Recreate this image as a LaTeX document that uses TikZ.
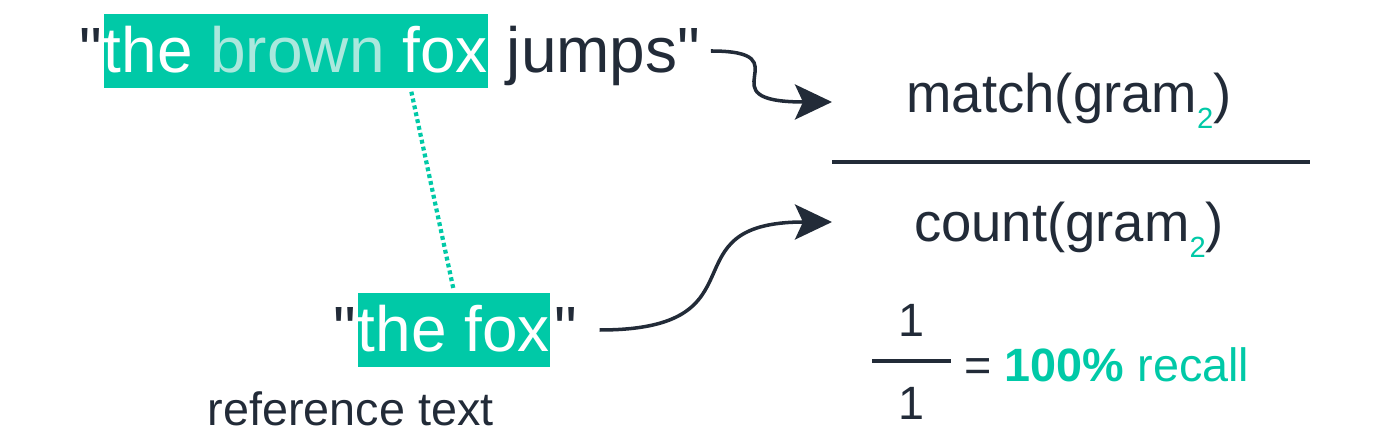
\documentclass[tikz,border=0pt]{standalone}
\usepackage{fontspec}
\setmainfont{Liberation Sans}[Ligatures=TeXOff]
\usetikzlibrary{arrows.meta,calc}
\definecolor{hlteal}{RGB}{0,201,167}
\definecolor{hlpale}{RGB}{170,232,221}
\definecolor{ink}{RGB}{34,43,56}
\newcommand{\gramtwo}{gram\raisebox{-4.3pt}{\fontsize{8.3}{10}\selectfont\textcolor{hlteal}{2}}}

\begin{document}
\begin{tikzpicture}[
        text=ink,
        big/.style={font=\fontsize{18.2}{22}\selectfont,inner sep=0pt,text height=0.59cm,text depth=0.15cm},
        hl/.style={big,fill=hlteal,text=white},
        mid/.style={font=\fontsize{15.5}{19}\selectfont,inner sep=0pt},
        small/.style={font=\fontsize{13.3}{16}\selectfont,inner sep=0pt},
        curly/.style={ink,line width=1pt,-{Stealth[length=3.7mm,width=3.5mm,inset=0.8mm]}},
        rule/.style={ink,line width=1.1pt}
    ]
        \useasboundingbox (0,0) rectangle (14,4.39);
        %% Candidate
        \node[hl,anchor=base west] (tophl) at (1.03,3.66) {the \textcolor{hlpale}{brown} fox};
        \node[big,anchor=base east] (topq) at (tophl.base west) {"};
        \node[big,anchor=base west] (topj) at (tophl.base east) {\ jumps"};
        %% Reference
        \node[hl,anchor=base west] (bothl) at (3.57,0.87) {the fox};
        \node[big,anchor=base east] (botq) at (bothl.base west) {"};
        \node[big,anchor=base west] (botqq) at ([xshift=0.3mm]bothl.base east) {"};
        \node[small,anchor=base west] (reflabel) at (2.07,0.13) {reference text};
        \draw[hlteal,line width=1.2pt,dash pattern=on 1.1pt off 0.9pt] ($(tophl.south west)!0.8!(tophl.south east)+(0,-0.03)$) -- ([yshift=0.02cm]bothl.north);
        %% Fraction
        \coordinate (barl) at (8.32,2.77);
        \coordinate (barr) at (13.10,2.77);
        \draw[rule] (barl) -- (barr);
        \node[mid,anchor=base] (match) at (10.69,3.26) {match(\gramtwo)};
        \node[mid,anchor=base] (count) at (10.69,1.97) {count(\gramtwo)};
        \coordinate (numin) at ($(barl)+(0,0.60)$);
        \coordinate (denin) at ($(barl)+(0,-0.60)$);
        %% Arrows
        \draw[curly] ([xshift=1mm]topj.east) .. controls +(0.96,0) and +(-1.32,0) .. (numin);
        \draw[curly] ([xshift=2.2mm]botqq.east) .. controls +(1.7,0) and +(-1.7,0) .. (denin);
        %% Result
        \coordinate (smalll) at (8.72,0.78);
        \coordinate (smallr) at (9.51,0.78);
        \draw[rule] (smalll) -- (smallr);
        \node[small,anchor=base] (one) at (9.115,1.02) {1};
        \node[small,anchor=base] (oneb) at (9.115,0.19) {1};
        \node[small,anchor=base west] (recall) at (9.64,0.57) {= \textcolor{hlteal}{\textbf{100\%} recall}};
\end{tikzpicture}
\end{document}
